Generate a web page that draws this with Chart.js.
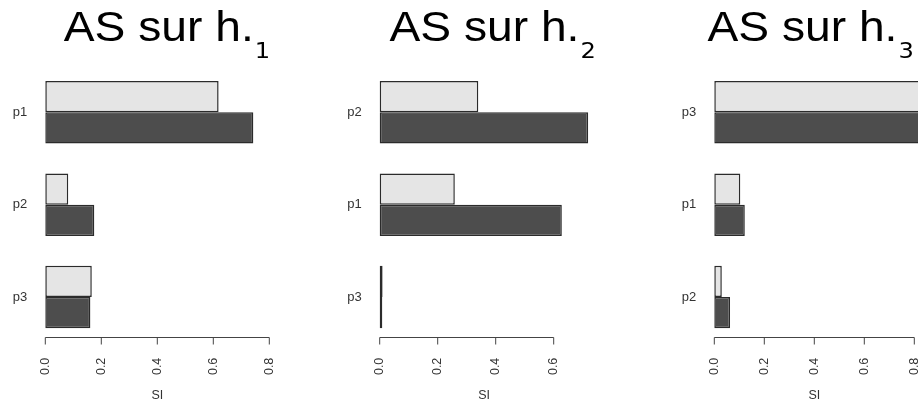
<!DOCTYPE html>
<html><head><meta charset="utf-8">
<script src="https://cdn.jsdelivr.net/npm/chart.js@4"></script>
<style>
html,body{margin:0;padding:0;background:#fff;}
#wrap{position:relative;width:918px;height:404px;overflow:hidden;background:#fff;}
canvas{position:absolute;top:0;}
</style></head><body>
<div id="wrap">
<canvas id="c1" width="306" height="404" style="left:0px"></canvas>
<canvas id="c2" width="306" height="404" style="left:306px"></canvas>
<canvas id="c3" width="306" height="404" style="left:612px"></canvas>
</div>
<script>
// ---- data ----
const titleMain = 'AS sur h.';
const titleSubs = ['1', '2', '3'];
const axisTitle = 'SI';

const cats1 = ['p1', 'p2', 'p3'];
const light1 = [0.619, 0.082, 0.166];
const dark1 = [0.743, 0.175, 0.161];
const ticks1 = [0, 0.2, 0.4, 0.6, 0.8];

const cats2 = ['p2', 'p1', 'p3'];
const light2 = [0.340, 0.259, 0.010];
const dark2 = [0.719, 0.628, 0.009];
const ticks2 = [0, 0.2, 0.4, 0.6];

const cats3 = ['p3', 'p1', 'p2'];
const light3 = [0.828, 0.104, 0.030];
const dark3 = [0.834, 0.122, 0.063];
const ticks3 = [0, 0.2, 0.4, 0.6, 0.8];

// ---- styling / layout ----
const FONT = '"Liberation Sans", Arial, Helvetica, sans-serif';
const SUBFONT = '"DejaVu Sans", "Liberation Sans", sans-serif';
const LIGHT = '#e5e5e5';
const DARK = '#4d4d4d';
const EDGE = '#2b2b2b';
const TXT = '#333333';

const panels = [
  {id: 'c1', cats: cats1, light: light1, dark: dark1, ticks: ticks1, sub: titleSubs[0], max: 0.8,  yWidth: 45.3,  rightPad: 36.7, titleCenter: 167},
  {id: 'c2', cats: cats2, light: light2, dark: dark2, ticks: ticks2, sub: titleSubs[1], max: 0.72, yWidth: 73.7,  rightPad: 23.5, titleCenter: 186.7},
  {id: 'c3', cats: cats3, light: light3, dark: dark3, ticks: ticks3, sub: titleSubs[2], max: 0.8,  yWidth: 102.3, rightPad: 3.7,  titleCenter: 198.7}
];

const rTitle = {
  id: 'rtitle',
  afterDraw(chart, args, opts) {
    const ctx = chart.ctx;
    const sx = 1.1;
    ctx.save();
    ctx.fillStyle = '#000';
    ctx.textBaseline = 'alphabetic';
    ctx.textAlign = 'left';
    const big = '42px ' + FONT, small = '22px ' + SUBFONT;
    ctx.font = big;
    const w1 = ctx.measureText(opts.main).width;
    ctx.font = small;
    const w2 = ctx.measureText(opts.sub).width;
    const gap = 1;
    const total = (w1 + gap + w2) * sx;
    ctx.translate(opts.center - total / 2, 0);
    ctx.scale(sx, 1);
    ctx.font = big;
    ctx.fillText(opts.main, 0, 41.2);
    ctx.font = small;
    ctx.fillText(opts.sub, w1 + gap, 58.3);
    ctx.restore();
  }
};

const rAxis = {
  id: 'raxis',
  afterDraw(chart) {
    const ctx = chart.ctx, xs = chart.scales.x, ca = chart.chartArea;
    const vals = xs.ticks.map(t => t.value);
    const y = Math.round(ca.bottom - 6) + 0.5;
    ctx.save();
    ctx.strokeStyle = '#444';
    ctx.lineWidth = 1;
    ctx.beginPath();
    ctx.moveTo(xs.getPixelForValue(vals[0]), y);
    ctx.lineTo(xs.getPixelForValue(vals[vals.length - 1]), y);
    vals.forEach(v => {
      const x = xs.getPixelForValue(v);
      ctx.moveTo(x, y);
      ctx.lineTo(x, y + 7);
    });
    ctx.stroke();
    ctx.restore();
  }
};

panels.forEach(p => {
  new Chart(document.getElementById(p.id), {
    type: 'bar',
    data: {
      labels: p.cats,
      datasets: [
        {data: p.light, backgroundColor: LIGHT, borderColor: EDGE, borderWidth: 1.5, borderSkipped: false, clip: false,
         categoryPercentage: 0.677, barPercentage: 1.0},
        {data: p.dark, backgroundColor: DARK, borderColor: EDGE, borderWidth: 1.5, borderSkipped: false, clip: false,
         categoryPercentage: 0.677, barPercentage: 1.0}
      ]
    },
    options: {
      indexAxis: 'y',
      responsive: false,
      devicePixelRatio: 1,
      animation: false,
      events: [],
      layout: {padding: {top: 66.2, right: p.rightPad, bottom: 0, left: 0}},
      plugins: {
        legend: {display: false},
        tooltip: {enabled: false},
        title: {display: false},
        rtitle: {main: titleMain, sub: p.sub, center: p.titleCenter}
      },
      scales: {
        x: {
          type: 'linear',
          min: 0,
          max: p.max,
          grid: {display: false, drawTicks: false},
          border: {display: false},
          afterBuildTicks: s => { s.ticks = p.ticks.map(v => ({value: v})); },
          afterFit: s => { s.height = 60.8; s.paddingLeft = 0; s.paddingRight = 0; },
          ticks: {
            minRotation: 90, maxRotation: 90, padding: 14.5, autoSkip: false,
            color: TXT, font: {family: FONT, size: 12.5},
            callback: v => Number(v).toFixed(1)
          },
          title: {display: true, text: axisTitle, color: TXT, font: {family: FONT, size: 12.5}, padding: {top: 2, bottom: 1}}
        },
        y: {
          type: 'category',
          offset: true,
          grid: {display: false, drawTicks: false},
          border: {display: false},
          afterFit: s => { s.width = p.yWidth; s.paddingTop = 0; s.paddingBottom = 0; },
          ticks: {padding: 18, color: TXT, font: {family: FONT, size: 13}}
        }
      }
    },
    plugins: [rTitle, rAxis]
  });
});
</script>
</body></html>
